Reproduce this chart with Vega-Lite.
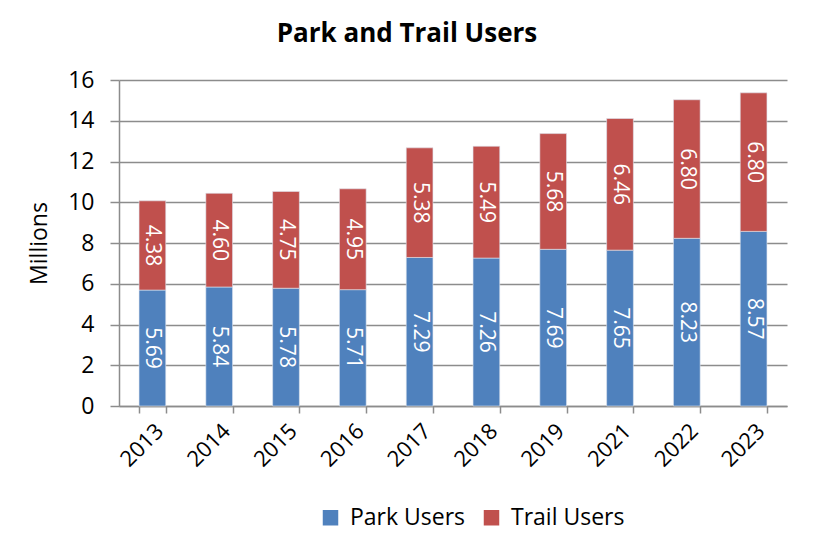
{
  "$schema": "https://vega.github.io/schema/vega-lite/v6.json",
  "width": 668,
  "height": 326,
  "autosize": {"type": "none"},
  "padding": {"left": 119, "top": 80, "right": 47, "bottom": 148},
  "background": "white",
  "title": {
    "text": "Park and Trail Users",
    "font": "Open Sans",
    "fontSize": 26,
    "fontWeight": "bold",
    "color": "#000000",
    "anchor": "middle",
    "dx": -46,
    "offset": 22
  },
  "data": {
    "values": [
      {"year": "2013", "series": "Park Users", "order": 1, "value": 5.69},
      {"year": "2014", "series": "Park Users", "order": 1, "value": 5.84},
      {"year": "2015", "series": "Park Users", "order": 1, "value": 5.78},
      {"year": "2016", "series": "Park Users", "order": 1, "value": 5.71},
      {"year": "2017", "series": "Park Users", "order": 1, "value": 7.29},
      {"year": "2018", "series": "Park Users", "order": 1, "value": 7.26},
      {"year": "2019", "series": "Park Users", "order": 1, "value": 7.69},
      {"year": "2021", "series": "Park Users", "order": 1, "value": 7.65},
      {"year": "2022", "series": "Park Users", "order": 1, "value": 8.23},
      {"year": "2023", "series": "Park Users", "order": 1, "value": 8.57},
      {"year": "2013", "series": "Trail Users", "order": 2, "value": 4.38},
      {"year": "2014", "series": "Trail Users", "order": 2, "value": 4.60},
      {"year": "2015", "series": "Trail Users", "order": 2, "value": 4.75},
      {"year": "2016", "series": "Trail Users", "order": 2, "value": 4.95},
      {"year": "2017", "series": "Trail Users", "order": 2, "value": 5.38},
      {"year": "2018", "series": "Trail Users", "order": 2, "value": 5.49},
      {"year": "2019", "series": "Trail Users", "order": 2, "value": 5.68},
      {"year": "2021", "series": "Trail Users", "order": 2, "value": 6.46},
      {"year": "2022", "series": "Trail Users", "order": 2, "value": 6.80},
      {"year": "2023", "series": "Trail Users", "order": 2, "value": 6.80}
    ]
  },
  "transform": [
    {"stack": "value", "groupby": ["year"], "sort": [{"field": "order", "order": "ascending"}], "as": ["y0", "y1"]},
    {"calculate": "(datum.y0 + datum.y1) / 2", "as": "mid"}
  ],
  "encoding": {
    "x": {
      "field": "year",
      "type": "ordinal",
      "title": null,
      "scale": {"paddingInner": 0.6, "paddingOuter": 0.3},
      "axis": {
        "labelAngle": -45,
        "labelFont": "Open Sans",
        "labelFontSize": 22,
        "labelColor": "#000000",
        "labelPadding": 7,
        "tickBand": "extent",
        "tickColor": "#8c8c8c",
        "tickWidth": 1.5,
        "tickSize": 7,
        "domainColor": "#8c8c8c",
        "domainWidth": 1.5
      }
    }
  },
  "layer": [
    {
      "mark": {"type": "bar", "stroke": "#dfe6f0", "strokeWidth": 0.6},
      "encoding": {
        "y": {
          "field": "y0",
          "type": "quantitative",
          "scale": {"domain": [0, 16]},
          "title": "Millions",
          "axis": {
            "values": [0, 2, 4, 6, 8, 10, 12, 14, 16],
            "titleFont": "Open Sans",
            "titleFontSize": 23,
            "titleFontWeight": "normal",
            "titleColor": "#000000",
            "titlePadding": 16,
            "labelFont": "Open Sans",
            "labelFontSize": 23,
            "labelColor": "#000000",
            "labelPadding": 16,
            "grid": true,
            "gridColor": "#8c8c8c",
            "gridWidth": 1.5,
            "tickColor": "#8c8c8c",
            "tickWidth": 1.5,
            "tickSize": 9,
            "domainColor": "#8c8c8c",
            "domainWidth": 1.5
          }
        },
        "y2": {"field": "y1"},
        "color": {
          "field": "series",
          "type": "nominal",
          "scale": {"domain": ["Park Users", "Trail Users"], "range": ["#4F81BD", "#C0504D"]},
          "legend": {
            "title": null,
            "orient": "none",
            "legendX": 200,
            "legendY": 426,
            "direction": "horizontal",
            "symbolType": "square",
            "symbolSize": 240,
            "symbolStrokeWidth": 0,
            "labelFont": "Open Sans",
            "labelFontSize": 23,
            "labelColor": "#000000",
            "columnPadding": 14,
            "labelOffset": 8
          }
        }
      }
    },
    {
      "mark": {"type": "text", "angle": 90, "color": "white", "font": "Open Sans", "fontSize": 21, "align": "center", "baseline": "middle"},
      "encoding": {
        "y": {"field": "mid", "type": "quantitative"},
        "text": {"field": "value", "type": "quantitative", "format": ".2f"}
      }
    }
  ],
  "config": {"view": {"stroke": null}}
}
